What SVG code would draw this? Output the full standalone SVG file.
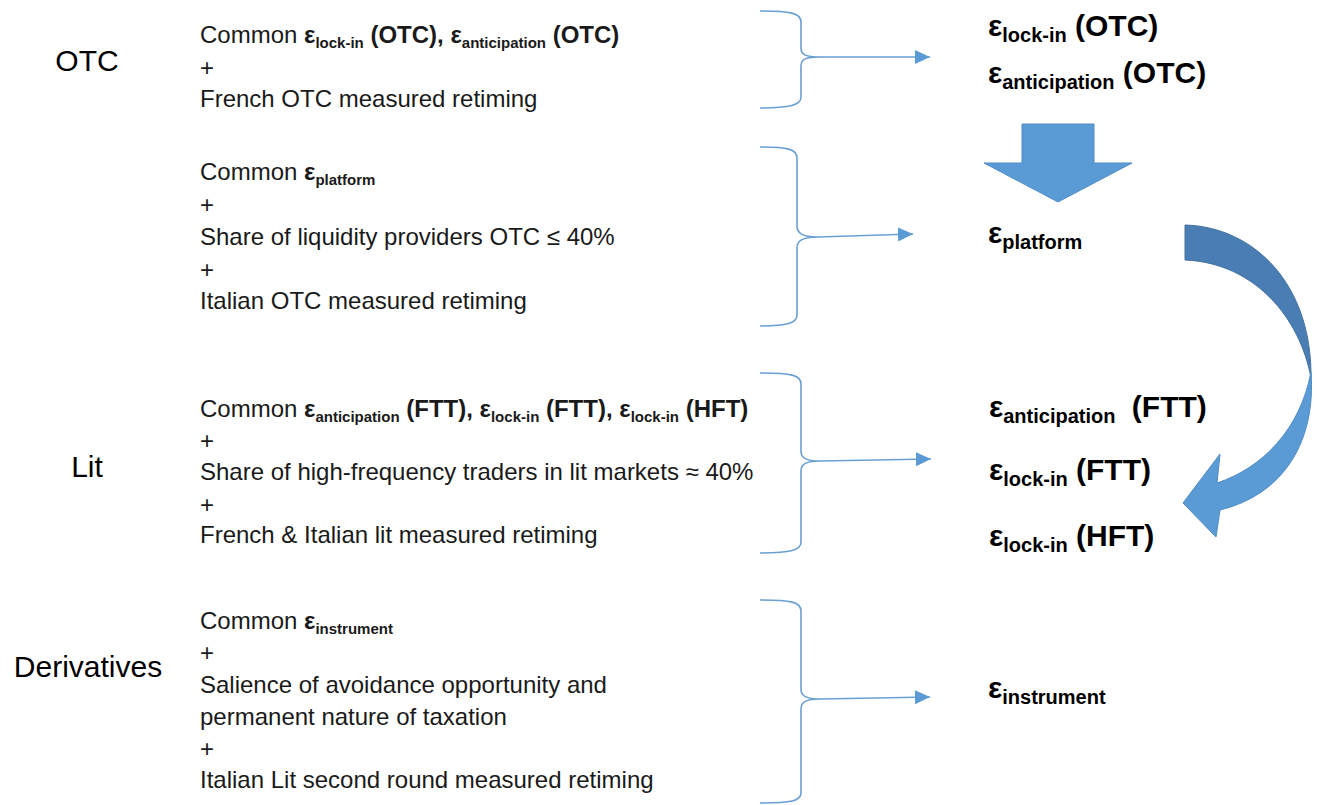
<svg xmlns="http://www.w3.org/2000/svg" width="1317" height="805" viewBox="0 0 1317 805">
<defs>
<style>
.lbl{font-family:"Liberation Sans",Arial,sans-serif;font-size:30px;fill:#000;text-anchor:middle}
.body{font-family:"Liberation Sans",Arial,sans-serif;font-size:24px;fill:#1a1a1a}
.b{font-weight:bold}
.sub{font-size:15px;font-weight:bold}
.res{font-family:"Liberation Sans",Arial,sans-serif;font-size:30px;font-weight:bold;fill:#000}
.rsub{font-size:20px;font-weight:bold}
.brace{fill:none;stroke:#6a9fd2;stroke-width:1.6}
.conn{fill:none;stroke:#6a9fd2;stroke-width:1.6}
.big{fill:#5b9bd5;stroke:#4f8cc6;stroke-width:1}
.dark{fill:#4a7db4;stroke:#43729f;stroke-width:1}
</style>
<marker id="ah" viewBox="0 0 15 14" refX="15" refY="7" markerWidth="15" markerHeight="14" markerUnits="userSpaceOnUse" orient="auto">
<path d="M0,0 L15,7 L0,14 Z" fill="#5b9bd5"/>
</marker>
</defs>
<rect width="1317" height="805" fill="#fff"/>

<g id="market-labels">
<text class="lbl" x="87" y="71">OTC</text>
<text class="lbl" x="87" y="477">Lit</text>
<text class="lbl" x="88" y="677">Derivatives</text>
</g>

<g id="block-otc">
<text class="body" x="200" y="43">Common <tspan class="b">ε</tspan><tspan class="sub" dy="5">lock-in</tspan><tspan class="b" dy="-5"> (OTC), ε</tspan><tspan class="sub" dy="5">anticipation</tspan><tspan class="b" dy="-5"> (OTC)</tspan></text>
<text class="body" x="200" y="76">+</text>
<text class="body" x="200" y="107">French OTC measured retiming</text>
</g>

<g id="block-platform">
<text class="body" x="200" y="180">Common <tspan class="b">ε</tspan><tspan class="sub" dy="5">platform</tspan></text>
<text class="body" x="200" y="213">+</text>
<text class="body" x="200" y="245">Share of liquidity providers OTC ≤ 40%</text>
<text class="body" x="200" y="278">+</text>
<text class="body" x="200" y="309">Italian OTC measured retiming</text>
</g>

<g id="block-lit">
<text class="body" x="200" y="417">Common <tspan class="b">ε</tspan><tspan class="sub" dy="5">anticipation</tspan><tspan class="b" dy="-5"> (FTT), ε</tspan><tspan class="sub" dy="5">lock-in</tspan><tspan class="b" dy="-5"> (FTT), ε</tspan><tspan class="sub" dy="5">lock-in</tspan><tspan class="b" dy="-5"> (HFT)</tspan></text>
<text class="body" x="200" y="449">+</text>
<text class="body" x="200" y="480">Share of high-frequency traders in lit markets ≈ 40%</text>
<text class="body" x="200" y="513">+</text>
<text class="body" x="200" y="543">French &amp; Italian lit measured retiming</text>
</g>

<g id="block-derivatives">
<text class="body" x="200" y="629">Common <tspan class="b">ε</tspan><tspan class="sub" dy="5">instrument</tspan></text>
<text class="body" x="200" y="661">+</text>
<text class="body" x="200" y="693">Salience of avoidance opportunity and</text>
<text class="body" x="200" y="725">permanent nature of taxation</text>
<text class="body" x="200" y="757">+</text>
<text class="body" x="200" y="788">Italian Lit second round measured retiming</text>
</g>

<g id="braces">
<path class="brace" d="M760,11 C790,11 801,13 801,22 L801,48 C801,55 806,57 820,57 C806,57 801,59 801,66 L801,97 C801,105 790,108 760,108"/>
<path class="brace" d="M760,147 C787,147 797,149 797,158 L797,226 C797,233 802,237 818,237 C802,237 797,241 797,248 L797,315 C797,323 787,326 760,326"/>
<path class="brace" d="M760,373 C791,373 801,375 801,384 L801,451 C801,458 806,461 820,461 C806,461 801,464 801,471 L801,542 C801,550 791,553 760,553"/>
<path class="brace" d="M760,600 C791,600 801,602 801,611 L801,689 C801,696 806,699 820,699 C806,699 801,702 801,709 L801,793 C801,801 791,803 760,803"/>
</g>

<g id="connectors">
<path class="conn" d="M820,57 L930,57" marker-end="url(#ah)"/>
<path class="conn" d="M818,237 L913,234" marker-end="url(#ah)"/>
<path class="conn" d="M820,461 L931,459" marker-end="url(#ah)"/>
<path class="conn" d="M820,699 L930,697" marker-end="url(#ah)"/>
<polygon id="down-arrow" class="big" points="1022,124 1094,124 1094,163 1132,163 1058,202 984,163 1022,163"/>
<g id="curved-arrow">
<path class="dark" d="M1185,225 C1255,227 1312,285 1311,378 C1300,318 1255,263 1185,260 Z"/>
<path class="big" d="M1311,372 C1316,440 1285,494 1220,510 L1216,537 L1183,503 L1220,454 L1217,483 C1262,468 1300,430 1311,372 Z"/>
</g>
</g>

<g id="result-otc">
<text class="res" x="988" y="36">ε<tspan class="rsub" dy="6">lock-in</tspan><tspan dy="-6"> (OTC)</tspan></text>
<text class="res" x="988" y="83">ε<tspan class="rsub" dy="6">anticipation</tspan><tspan dy="-6"> (OTC)</tspan></text>
</g>

<g id="result-platform">
<text class="res" x="988" y="243">ε<tspan class="rsub" dy="6">platform</tspan></text>
</g>

<g id="result-lit">
<text class="res" x="989" y="417">ε<tspan class="rsub" dy="6">anticipation</tspan><tspan dy="-6" dx="8"> (FTT)</tspan></text>
<text class="res" x="989" y="480">ε<tspan class="rsub" dy="6">lock-in</tspan><tspan dy="-6"> (FTT)</tspan></text>
<text class="res" x="989" y="546">ε<tspan class="rsub" dy="6">lock-in</tspan><tspan dy="-6"> (HFT)</tspan></text>
</g>

<g id="result-derivatives">
<text class="res" x="988" y="698">ε<tspan class="rsub" dy="6">instrument</tspan></text>
</g>
</svg>
